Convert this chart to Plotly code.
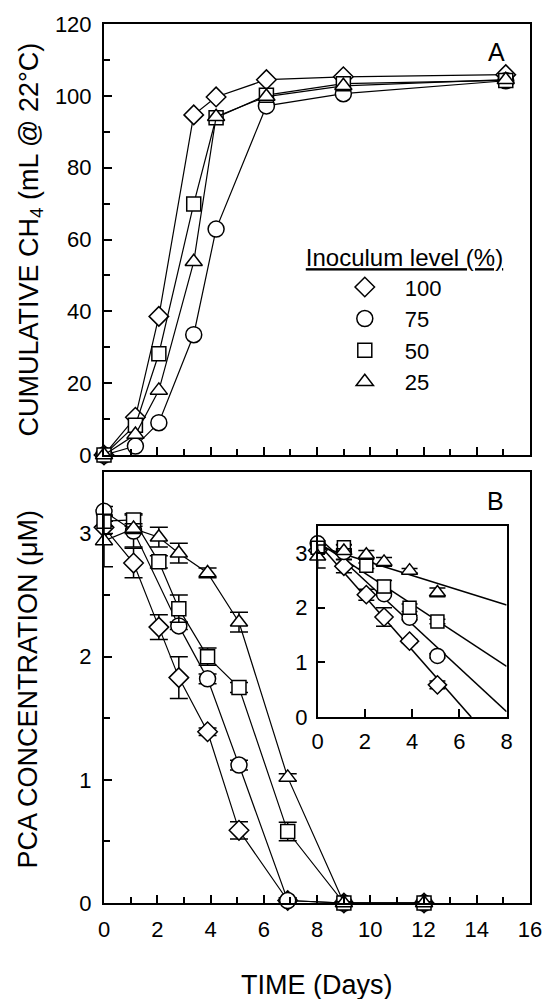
import plotly.graph_objects as go

# ---------------- data ----------------
levels = ["100", "75", "50", "25"]
symbols = ["diamond", "circle", "square", "triangle-up"]

# Panel A: cumulative CH4 (mL @ 22 C)
ch4_days = [0, 1.18, 2.06, 3.37, 4.21, 6.1, 8.99, 15.09]
ch4_100 = [0, 10.5, 38.6, 94.7, 99.7, 104.5, 105.3, 105.9]
ch4_75 = [0, 2.5, 9.0, 33.5, 62.9, 97.2, 100.6, 104.2]
ch4_50 = [0, 8.3, 28.2, 69.9, 93.9, 100.2, 103.4, 104.3]
ch4_25 = [0, 5.7, 18.0, 53.8, 94.2, 99.8, 102.8, 104.5]

# Panel B: PCA concentration (uM)
pca_days = [0, 1.11, 2.06, 2.81, 3.89, 5.07, 6.9, 9.01, 12.02]
pca_days_75 = [0, 1.11, 2.81, 3.89, 5.07, 6.9, 9.01, 12.02]
pca_100 = [3.05, 2.76, 2.24, 1.83, 1.39, 0.59, 0.02, 0.0, 0.0]
pca_100_err = [0.05, 0.12, 0.10, 0.17, 0.03, 0.07, 0.02, 0.01, 0.01]
pca_75 = [3.18, 3.02, 2.25, 1.82, 1.12, 0.02, 0.0, 0.0]
pca_75_err = [0.04, 0.13, 0.03, 0.04, 0.04, 0.02, 0.01, 0.01]
pca_50 = [3.10, 3.11, 2.77, 2.39, 2.00, 1.75, 0.58, 0.0, 0.0]
pca_50_err = [0.04, 0.05, 0.05, 0.11, 0.07, 0.04, 0.075, 0.01, 0.01]
pca_25 = [2.94, 3.04, 2.97, 2.84, 2.68, 2.28, 1.02, 0.0, 0.0]
pca_25_err = [0.21, 0.04, 0.08, 0.08, 0.04, 0.08, 0.03, 0.01, 0.01]

# Inset: number of early points shown, and linear-fit end points
inset_n = [6, 5, 6, 6]
fit_x = [[0, 6.5], [0, 8], [0, 8], [0, 8]]
fit_y = [[3.19, 0.0], [3.30, 0.10], [3.20, 0.93], [3.13, 2.05]]

ch4_series = [ch4_100, ch4_75, ch4_50, ch4_25]
pca_x = [pca_days, pca_days_75, pca_days, pca_days]
pca_series = [pca_100, pca_75, pca_50, pca_25]
pca_errs = [pca_100_err, pca_75_err, pca_50_err, pca_25_err]
msizes = [15, 16, 14, 15]

FONT = "Liberation Sans, Arial, sans-serif"
fig = go.Figure()

def mk(sym, size):
    return dict(symbol=sym, size=size, color="white",
                line=dict(color="black", width=1.5))

for i in range(4):
    fig.add_trace(go.Scatter(x=ch4_days, y=ch4_series[i], mode="lines+markers",
                             line=dict(color="black", width=1.2),
                             marker=mk(symbols[i], msizes[i]),
                             cliponaxis=False, showlegend=False,
                             xaxis="x", yaxis="y"))
for i in range(4):
    fig.add_trace(go.Scatter(x=pca_x[i], y=pca_series[i], mode="lines+markers",
                             line=dict(color="black", width=1.2),
                             marker=mk(symbols[i], msizes[i]),
                             error_y=dict(type="data", array=pca_errs[i], color="black",
                                          thickness=1.5, width=9),
                             cliponaxis=False, showlegend=False,
                             xaxis="x2", yaxis="y2"))
# inset
for i in range(4):
    fig.add_trace(go.Scatter(x=fit_x[i], y=fit_y[i], mode="lines",
                             line=dict(color="black", width=1.5),
                             showlegend=False, xaxis="x3", yaxis="y3"))
for i in range(4):
    n = inset_n[i]
    fig.add_trace(go.Scatter(x=pca_x[i][:n], y=pca_series[i][:n], mode="markers",
                             marker=mk(symbols[i], msizes[i] - 1),
                             error_y=dict(type="data", array=pca_errs[i][:n], color="black",
                                          thickness=1.5, width=8),
                             cliponaxis=False, showlegend=False,
                             xaxis="x3", yaxis="y3"))
# legend entries
for i in range(4):
    fig.add_trace(go.Scatter(x=[None], y=[None], mode="markers", name=levels[i],
                             marker=mk(symbols[i], msizes[i]),
                             showlegend=True, xaxis="x", yaxis="y"))

def ax(**kw):
    d = dict(showline=True, mirror=True, linecolor="black", linewidth=2,
             ticks="inside", ticklen=8, tickwidth=1.5, tickcolor="black",
             showgrid=False, zeroline=False,
             tickfont=dict(family=FONT, size=22, color="black"))
    d.update(kw)
    return d

top_dom = [0.5096, 1.0]
bot_dom = [0.0, 0.4904]

fig.update_layout(
    width=554, height=999,
    margin=dict(l=104, r=18, t=22, b=96),
    paper_bgcolor="white", plot_bgcolor="white",
    font=dict(family=FONT, color="black"),
    xaxis=ax(domain=[0, 1], range=[0, 16], anchor="y", dtick=2, showticklabels=False,
             minor=dict(ticks="inside", ticklen=6, dtick=1, tickwidth=1.5, tickcolor="black")),
    yaxis=ax(domain=top_dom, range=[0, 120], anchor="x", dtick=20, ticklabelstandoff=6,
             minor=dict(ticks="inside", ticklen=6, dtick=10, tickwidth=1.5, tickcolor="black")),
    xaxis2=ax(domain=[0, 1], range=[0, 16], anchor="y2", dtick=2, ticklabelstandoff=6,
              minor=dict(ticks="inside", ticklen=6, dtick=1, tickwidth=1.5, tickcolor="black")),
    yaxis2=ax(domain=bot_dom, range=[0, 3.5], anchor="x2", dtick=1, ticklabelstandoff=6,
              minor=dict(ticks="inside", ticklen=6, dtick=0.5, tickwidth=1.5, tickcolor="black")),
    xaxis3=ax(domain=[0.5016, 0.9451], range=[0, 8], anchor="y3", dtick=2, linewidth=1.5,
              ticklabelstandoff=4),
    yaxis3=ax(domain=[0.2115, 0.4291], range=[0, 3.5], anchor="x3", dtick=1, linewidth=1.5,
              ticklabelstandoff=4),
    showlegend=True,
    legend=dict(x=0.469, y=0.76, xanchor="left", yanchor="top",
                bgcolor="rgba(0,0,0,0)", borderwidth=0,
                font=dict(family=FONT, size=22, color="black"),
                title=dict(text="<span style='text-decoration:underline'>Inoculum level (%)</span>",
                           font=dict(family=FONT, size=24, color="black"), side="top"),
                itemwidth=70, indentation=21, tracegroupgap=0, itemclick=False),
    annotations=[
        dict(text="CUMULATIVE CH<sub>4</sub> (mL @ 22°C)", xref="paper", yref="paper",
             x=-0.171, y=0.755, textangle=-90, showarrow=False, xanchor="center", yanchor="middle",
             font=dict(family=FONT, size=27, color="black")),
        dict(text="PCA CONCENTRATION (μM)", xref="paper", yref="paper",
             x=-0.178, y=0.243, textangle=-90, showarrow=False, xanchor="center", yanchor="middle",
             font=dict(family=FONT, size=27, color="black")),
        dict(text="TIME (Days)", xref="paper", yref="paper", x=0.5, y=-0.093,
             showarrow=False, xanchor="center", yanchor="middle",
             font=dict(family=FONT, size=27, color="black")),
        dict(text="A", xref="x", yref="y", x=14.75, y=112.3, showarrow=False,
             font=dict(family=FONT, size=25, color="black")),
        dict(text="B", xref="x2", yref="y2", x=14.7, y=3.26, showarrow=False,
             font=dict(family=FONT, size=25, color="black")),
    ],
)

fig.write_html("out.html")
